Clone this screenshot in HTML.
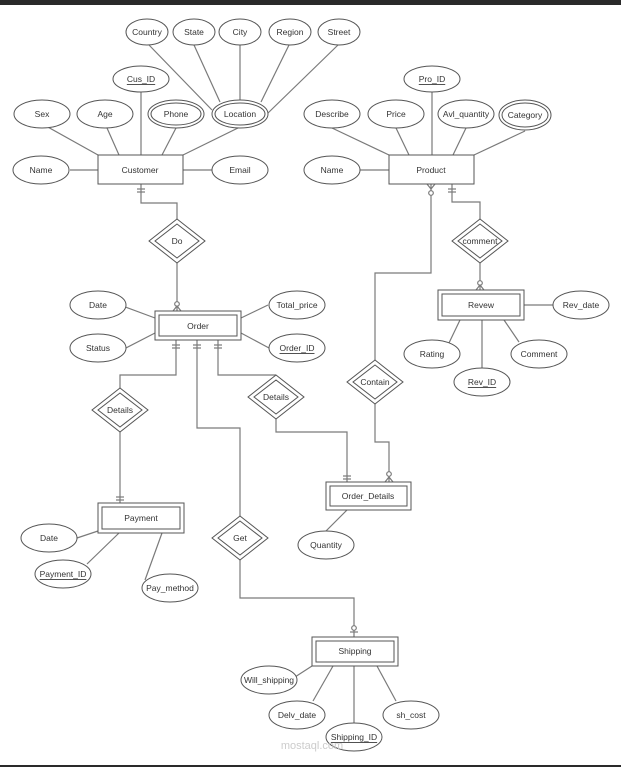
<!DOCTYPE html>
<html><head><meta charset="utf-8"><style>
html,body{margin:0;padding:0;background:#fff;}
svg{display:block;}
text{font-family:"Liberation Sans",sans-serif;font-size:8.5px;fill:#333;text-anchor:middle;dominant-baseline:central;}
</style></head><body>
<svg width="621" height="767" viewBox="0 0 621 767" xmlns="http://www.w3.org/2000/svg">
<rect x="0" y="0" width="621" height="5" fill="#2a2a2a"/>
<rect x="0" y="765" width="621" height="2" fill="#2a2a2a"/>
<g stroke="#7a7a7a" stroke-width="1.2" fill="none">
<!-- customer attrs -->
<line x1="46" y1="126" x2="98" y2="155"/>
<line x1="107" y1="128" x2="119" y2="155"/>
<line x1="141" y1="92" x2="141" y2="155"/>
<line x1="176" y1="128" x2="162" y2="155"/>
<line x1="240" y1="127" x2="183" y2="155"/>
<line x1="70" y1="170" x2="98" y2="170"/>
<line x1="183" y1="170" x2="212" y2="170"/>
<line x1="149" y1="45" x2="212" y2="110"/>
<line x1="194" y1="45" x2="220" y2="102"/>
<line x1="240" y1="45" x2="240" y2="101"/>
<line x1="289" y1="45" x2="261" y2="102"/>
<line x1="338" y1="45" x2="268" y2="113"/>
<!-- product attrs -->
<line x1="332" y1="128" x2="389" y2="155"/>
<line x1="396" y1="128" x2="409" y2="155"/>
<line x1="432" y1="92" x2="432" y2="155"/>
<line x1="466" y1="128" x2="453" y2="155"/>
<line x1="525" y1="131" x2="474" y2="155"/>
<line x1="360" y1="170" x2="389" y2="170"/>
<!-- order attrs -->
<line x1="120" y1="305" x2="155" y2="318"/>
<line x1="126" y1="348" x2="155" y2="333"/>
<line x1="241" y1="318" x2="268" y2="305"/>
<line x1="241" y1="333" x2="269" y2="348"/>
<!-- revew attrs -->
<line x1="524" y1="305" x2="553" y2="305"/>
<line x1="448" y1="345" x2="460" y2="320"/>
<line x1="482" y1="368" x2="482" y2="320"/>
<line x1="519" y1="342" x2="504" y2="320"/>
<!-- payment attrs -->
<line x1="77" y1="538" x2="98" y2="531"/>
<line x1="87" y1="564" x2="119" y2="533"/>
<line x1="145" y1="580" x2="162" y2="533"/>
<!-- order details attr -->
<line x1="326" y1="531" x2="347" y2="510"/>
<!-- shipping attrs -->
<line x1="295" y1="677" x2="312" y2="666"/>
<line x1="313" y1="701" x2="333" y2="666"/>
<line x1="354" y1="723" x2="354" y2="666"/>
<line x1="396" y1="701" x2="377" y2="666"/>
<!-- relationships -->
<polyline points="141,184 141,203 177,203 177,219"/>
<line x1="177" y1="262" x2="177" y2="311"/>
<polyline points="176,340 176,375 120,375 120,388"/>
<line x1="120" y1="432" x2="120" y2="503"/>
<polyline points="197,340 197,428 240,428 240,516"/>
<polyline points="240,560 240,598 354,598 354,637"/>
<polyline points="218,340 218,375 276,375"/>
<polyline points="276,419 276,432 347,432 347,482"/>
<polyline points="431,184 431,273 375,273 375,360"/>
<polyline points="375,404 375,442 389,442 389,482"/>
<polyline points="452,184 452,202 480,202 480,220"/>
<line x1="480" y1="262" x2="480" y2="290"/>
<!-- markers: ticks -->
<line x1="137" y1="189" x2="145" y2="189"/><line x1="137" y1="192" x2="145" y2="192"/>
<line x1="172" y1="345" x2="180" y2="345"/><line x1="172" y1="348" x2="180" y2="348"/>
<line x1="193" y1="345" x2="201" y2="345"/><line x1="193" y1="348" x2="201" y2="348"/>
<line x1="214" y1="345" x2="222" y2="345"/><line x1="214" y1="348" x2="222" y2="348"/>
<line x1="448" y1="189" x2="456" y2="189"/><line x1="448" y1="192" x2="456" y2="192"/>
<line x1="116" y1="497" x2="124" y2="497"/><line x1="116" y1="500" x2="124" y2="500"/>
<line x1="343" y1="476" x2="351" y2="476"/><line x1="343" y1="479" x2="351" y2="479"/>
<line x1="350" y1="632" x2="358" y2="632"/>
<!-- circles + crows -->
<circle cx="177" cy="304" r="2.3" fill="#fff"/><polyline points="173,311 177,306 181,311"/>
<circle cx="431" cy="193" r="2.3" fill="#fff"/><polyline points="427,184 431,189 435,184"/>
<circle cx="480" cy="283" r="2.3" fill="#fff"/><polyline points="476,290 480,285 484,290"/>
<circle cx="389" cy="474" r="2.3" fill="#fff"/><polyline points="385,482 389,477 393,482"/>
<circle cx="354" cy="628" r="2.3" fill="#fff"/>
</g>
<g stroke="#555" stroke-width="1" fill="#fff">
<!-- ellipses -->
<ellipse cx="147" cy="32" rx="21" ry="13"/>
<ellipse cx="194" cy="32" rx="21" ry="13"/>
<ellipse cx="240" cy="32" rx="21" ry="13"/>
<ellipse cx="290" cy="32" rx="21" ry="13"/>
<ellipse cx="339" cy="32" rx="21" ry="13"/>
<ellipse cx="141" cy="79" rx="28" ry="13"/>
<ellipse cx="42" cy="114" rx="28" ry="14"/>
<ellipse cx="105" cy="114" rx="28" ry="14"/>
<ellipse cx="176" cy="114" rx="28" ry="14"/><ellipse cx="176" cy="114" rx="25" ry="11"/>
<ellipse cx="240" cy="114" rx="28" ry="14"/><ellipse cx="240" cy="114" rx="25" ry="11"/>
<ellipse cx="41" cy="170" rx="28" ry="14"/>
<ellipse cx="240" cy="170" rx="28" ry="14"/>
<ellipse cx="432" cy="79" rx="28" ry="13"/>
<ellipse cx="332" cy="114" rx="28" ry="14"/>
<ellipse cx="396" cy="114" rx="28" ry="14"/>
<ellipse cx="466" cy="114" rx="28" ry="14"/>
<ellipse cx="525" cy="115" rx="26" ry="15"/><ellipse cx="525" cy="115" rx="23" ry="12"/>
<ellipse cx="332" cy="170" rx="28" ry="14"/>
<ellipse cx="98" cy="305" rx="28" ry="14"/>
<ellipse cx="98" cy="348" rx="28" ry="14"/>
<ellipse cx="297" cy="305" rx="28" ry="14"/>
<ellipse cx="297" cy="348" rx="28" ry="14"/>
<ellipse cx="581" cy="305" rx="28" ry="14"/>
<ellipse cx="432" cy="354" rx="28" ry="14"/>
<ellipse cx="482" cy="382" rx="28" ry="14"/>
<ellipse cx="539" cy="354" rx="28" ry="14"/>
<ellipse cx="49" cy="538" rx="28" ry="14"/>
<ellipse cx="63" cy="574" rx="28" ry="14"/>
<ellipse cx="170" cy="588" rx="28" ry="14"/>
<ellipse cx="326" cy="545" rx="28" ry="14"/>
<ellipse cx="269" cy="680" rx="28" ry="14"/>
<ellipse cx="297" cy="715" rx="28" ry="14"/>
<ellipse cx="354" cy="737" rx="28" ry="14"/>
<ellipse cx="411" cy="715" rx="28" ry="14"/>
<!-- entities -->
<rect x="98" y="155" width="85" height="29"/>
<rect x="389" y="155" width="85" height="29"/>
<rect x="155" y="311" width="86" height="29"/><rect x="159" y="315" width="78" height="21"/>
<rect x="438" y="290" width="86" height="30"/><rect x="442" y="294" width="78" height="22"/>
<rect x="98" y="503" width="86" height="30"/><rect x="102" y="507" width="78" height="22"/>
<rect x="326" y="482" width="85" height="28"/><rect x="330" y="486" width="77" height="20"/>
<rect x="312" y="637" width="86" height="29"/><rect x="316" y="641" width="78" height="21"/>
<!-- diamonds -->
<polygon points="177,219 205,241 177,263 149,241"/><polygon points="177,224 199,241 177,258 155,241"/>
<polygon points="480,219 508,241 480,263 452,241"/><polygon points="480,224 502,241 480,258 458,241"/>
<polygon points="120,388 148,410 120,432 92,410"/><polygon points="120,393 142,410 120,427 98,410"/>
<polygon points="276,375 304,397 276,419 248,397"/><polygon points="276,380 298,397 276,414 254,397"/>
<polygon points="375,360 403,382 375,404 347,382"/><polygon points="375,365 397,382 375,399 353,382"/>
<polygon points="240,516 268,538 240,560 212,538"/><polygon points="240,521 262,538 240,555 218,538"/>
</g>
<g>
<text x="147" y="32">Country</text><text x="194" y="32">State</text><text x="240" y="32">City</text>
<text x="290" y="32">Region</text><text x="339" y="32">Street</text>
<text x="141" y="79" text-decoration="underline">Cus_ID</text>
<text x="42" y="114">Sex</text><text x="105" y="114">Age</text><text x="176" y="114">Phone</text><text x="240" y="114">Location</text>
<text x="41" y="170">Name</text><text x="140" y="170">Customer</text><text x="240" y="170">Email</text>
<text x="432" y="79" text-decoration="underline">Pro_ID</text>
<text x="332" y="114">Describe</text><text x="396" y="114">Price</text><text x="466" y="114">Avl_quantity</text><text x="525" y="115">Category</text>
<text x="332" y="170">Name</text><text x="431" y="170">Product</text>
<text x="177" y="241">Do</text><text x="480" y="241">comment</text>
<text x="98" y="305">Date</text><text x="98" y="348">Status</text><text x="198" y="326">Order</text>
<text x="297" y="305">Total_price</text><text x="297" y="348" text-decoration="underline">Order_ID</text>
<text x="481" y="305">Revew</text><text x="581" y="305">Rev_date</text>
<text x="432" y="354">Rating</text><text x="482" y="382" text-decoration="underline">Rev_ID</text><text x="539" y="354">Comment</text>
<text x="120" y="410">Details</text><text x="276" y="397">Details</text><text x="375" y="382">Contain</text>
<text x="368" y="496">Order_Details</text><text x="141" y="518">Payment</text>
<text x="240" y="538">Get</text>
<text x="49" y="538">Date</text><text x="63" y="574" text-decoration="underline">Payment_ID</text><text x="170" y="588">Pay_method</text>
<text x="326" y="545">Quantity</text>
<text x="355" y="651">Shipping</text>
<text x="269" y="680">Will_shipping</text><text x="297" y="715">Delv_date</text>
<text x="354" y="737" text-decoration="underline">Shipping_ID</text><text x="411" y="715">sh_cost</text>
<text x="312" y="746" style="font-size:11px;fill:#ccc">mostaql.com</text>
</g>
</svg>
</body></html>
